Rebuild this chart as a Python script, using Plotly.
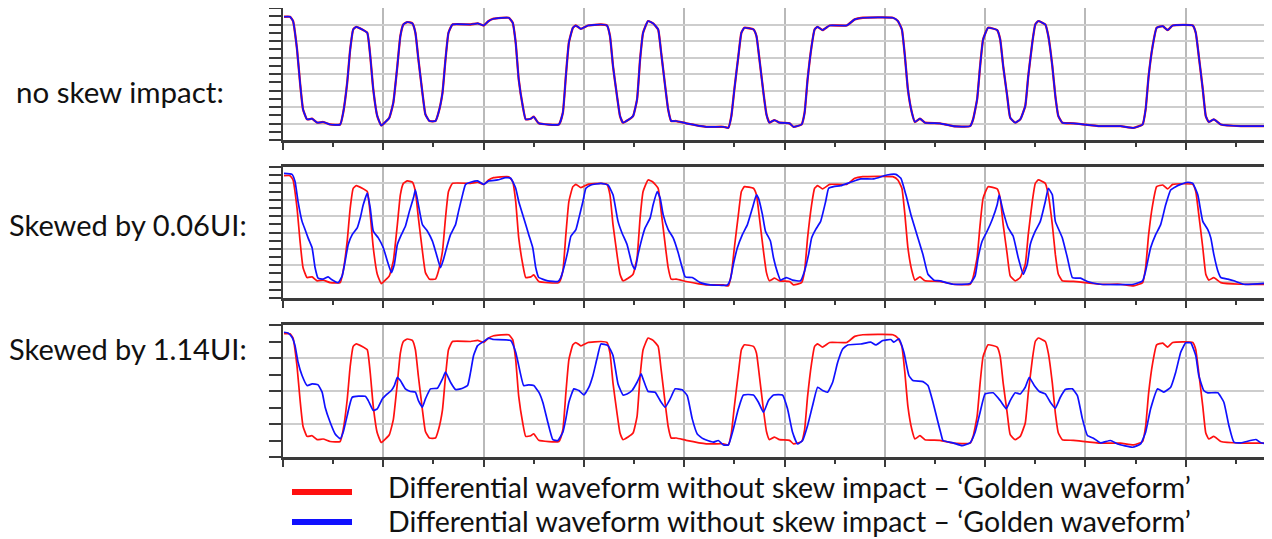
import plotly.graph_objects as go

# ---------------- data (time in ps, differential voltage in mV) ----------------
GOLDEN = [(1,347),(7,347),(10,321),(14,149),(17,-53),(20,-215),(24,-275),(29,-271),(34,-295),(40,-291),
          (47,-306),(57,-306),(60,-235),(64,-53),(67,149),(70,270),(73,286),(79,270),(84,250),(87,109),
          (90,-93),(94,-255),(98,-312),(102,-291),(106,-265),(110,-174),(114,48),(117,230),(120,300),(124,315),
          (129,307),(132,250),(135,88),(139,-114),(142,-245),(146,-285),(152,-285),(155,-235),(159,-114),(162,88),
          (165,250),(169,300),(187,300),(194,307),(200,294),(205,321),(210,335),(225,341),(229,311),(232,189),
          (235,-33),(239,-194),(242,-275),(247,-271),(250,-259),(255,-299),(275,-306),(279,-235),(282,-13),(285,189),
          (289,280),(292,294),(297,274),(304,294),(317,300),(323,294),(326,230),(329,48),(333,-134),(336,-255),
          (339,-295),(344,-279),(349,-255),(353,-154),(356,88),(359,250),(364,321),(369,307),(374,270),(377,129),
          (381,-73),(384,-215),(387,-285),(392,-285),(402,-299),(422,-320),(439,-320),(444,-326),(447,-255),(450,-93),
          (454,109),(457,250),(460,280),(469,270),(472,230),(475,88),(479,-114),(482,-245),(485,-295),(490,-279),
          (495,-295),(505,-299),(509,-320),(517,-306),(520,-235),(523,-33),(527,169),(530,270),(533,286),(538,266),
          (545,294),(562,294),(570,331),(578,341),(608,341),(613,321),(617,270),(620,109),(623,-93),(627,-235),
          (630,-291),(635,-271),(640,-295),(655,-299),(668,-316),(685,-316),(688,-275),(692,-154),(695,48),(698,210),
          (703,280),(712,266),(715,210),(718,48),(722,-134),(725,-265),(730,-295),(735,-275),(740,-194),(743,-13),
          (747,189),(750,300),(753,321),(760,300),(763,230),(767,48),(770,-134),(773,-255),(777,-295),(788,-299),
          (815,-316),(835,-316),(848,-326),(857,-306),(860,-215),(863,-13),(867,169),(871,280),(877,290),(882,266),
          (887,294),(907,294),(910,250),(913,109),(917,-93),(920,-255),(923,-291),(928,-275),(935,-306),(955,-316),
          (987,-316)]

NO_SKEW = GOLDEN  # measured waveform without skew coincides with the golden one

SKEW_006UI = [(1,361),(9,355),(12,311),(15,189),(19,68),(22,18),(25,-33),(29,-93),(32,-215),(35,-279),
              (40,-285),(45,-271),(48,-285),(55,-306),(59,-265),(62,-174),(65,-73),(69,-13),(74,28),(77,88),
              (80,169),(84,240),(87,149),(90,8),(95,-33),(100,-93),(104,-174),(108,-245),(111,-194),(114,-73),
              (118,-13),(122,38),(126,129),(130,210),(132,260),(135,169),(139,48),(144,8),(149,-53),(153,-134),
              (157,-215),(160,-164),(164,-73),(167,-13),(172,48),(175,129),(179,230),(182,294),(187,307),(194,315),
              (200,294),(205,315),(214,321),(222,335),(227,331),(232,270),(235,189),(240,88),(245,-13),(249,-93),
              (252,-215),(255,-275),(264,-295),(274,-299),(277,-275),(280,-215),(284,-114),(287,-23),(292,18),(295,88),
              (299,189),(302,270),(307,290),(317,300),(324,290),(329,230),(334,68),(338,-3),(343,-73),(348,-194),
              (351,-225),(354,-134),(358,-33),(361,28),(366,88),(369,169),(373,250),(376,210),(379,109),(384,18),
              (389,-33),(394,-124),(398,-215),(401,-271),(408,-275),(416,-306),(426,-320),(443,-320),(446,-285),(449,-194),
              (453,-93),(458,-13),(463,48),(468,149),(472,230),(474,210),(478,109),(481,8),(486,-53),(489,-154),
              (493,-245),(496,-291),(502,-275),(508,-291),(516,-295),(520,-235),(524,-134),(527,-33),(531,18),(536,68),
              (541,189),(544,270),(549,280),(556,286),(566,307),(576,327),(589,327),(602,351),(611,355),(616,331),
              (621,230),(626,109),(633,-33),(638,-134),(643,-255),(649,-291),(655,-295),(668,-316),(685,-312),(690,-265),
              (693,-154),(697,-53),(702,8),(707,78),(712,169),(714,230),(718,129),(723,28),(728,-23),(733,-154),
              (738,-255),(742,-194),(745,-73),(750,8),(755,68),(760,189),(763,270),(767,230),(770,68),(777,-33),
              (782,-154),(787,-275),(795,-279),(802,-299),(815,-316),(848,-316),(857,-295),(860,-235),(865,-93),(870,-13),
              (875,48),(880,169),(885,260),(890,280),(895,294),(902,307),(907,300),(912,230),(917,68),(922,18),
              (925,-33),(928,-134),(932,-235),(935,-275),(942,-285),(948,-295),(958,-316),(987,-306)]

SKEW_114UI = [(1,356),(5,352),(9,326),(12,275),(15,174),(19,94),(24,33),(29,43),(35,37),(39,-7),
              (42,-98),(47,-189),(52,-260),(57,-290),(60,-250),(64,-149),(69,-38),(82,-32),(85,-58),(90,-118),
              (94,-108),(99,-48),(104,-18),(108,3),(111,33),(114,83),(117,63),(122,13),(127,-3),(132,-7),
              (135,-58),(139,-98),(142,-48),(147,13),(154,17),(159,73),(162,114),(167,53),(172,9),(177,13),
              (184,33),(187,114),(190,215),(194,275),(200,300),(205,320),(210,312),(227,306),(232,235),(235,154),
              (240,33),(245,37),(250,33),(255,-7),(259,-68),(264,-189),(269,-294),(274,-300),(279,-250),(282,-169),
              (285,-68),(290,13),(295,3),(300,-24),(305,23),(309,94),(313,195),(317,285),(324,275),(329,215),
              (334,43),(339,-24),(343,-18),(348,3),(353,53),(357,104),(359,73),(364,-3),(371,-7),(376,-58),
              (381,-98),(386,-48),(391,13),(398,7),(403,-28),(408,-169),(413,-260),(419,-290),(429,-310),(434,-300),
              (439,-327),(444,-327),(449,-230),(454,-108),(459,-24),(469,-24),(474,-68),(479,-129),(484,-58),(489,-24),
              (498,-24),(503,-108),(508,-250),(513,-321),(518,-300),(523,-209),(528,-88),(533,23),(538,3),(543,-7),
              (548,53),(553,174),(558,255),(563,279),(576,285),(586,296),(591,279),(598,306),(606,312),(609,296),
              (614,316),(619,235),(624,94),(628,63),(638,57),(643,33),(648,-68),(653,-189),(656,-260),(658,-300),
              (668,-314),(677,-331),(685,-314),(690,-250),(695,-129),(700,-18),(708,-11),(715,-58),(721,-108),(725,-58),
              (730,-11),(735,-18),(740,23),(744,83),(749,33),(754,-3),(760,-18),(765,-68),(770,-104),(775,-38),
              (780,9),(787,13),(792,-28),(797,-169),(802,-270),(808,-286),(815,-314),(825,-300),(832,-321),(847,-341),
              (855,-321),(860,-250),(865,-108),(872,13),(878,-7),(885,23),(890,114),(895,235),(900,292),(905,292),
              (910,215),(913,94),(918,3),(922,-11),(932,-11),(938,-68),(943,-209),(948,-310),(955,-314),(970,-294),
              (975,-314),(987,-324)]

PANEL_LABELS = ["no skew impact:", "Skewed by 0.06UI:", "Skewed by 1.14UI:"]
LEGEND_TEXT = ["Differential waveform without skew impact \u2013 \u2018Golden waveform\u2019",
               "Differential waveform without skew impact \u2013 \u2018Golden waveform\u2019"]

# ---------------- layout constants ----------------
PAGE_W, PAGE_H = 1272, 539
OFF = 8                      # default page margin around the plot div
W, H = PAGE_W - OFF, PAGE_H - OFF
L = 283 - OFF
RED, BLUE = "#ff1010", "#1010ff"
FONT = "Lato"

def py(pix):  # page pixel row -> paper y
    return min(1.0, max(0.0, 1 - (pix - OFF) / H))

def px(pix):  # page pixel column -> paper x
    return (pix - OFF - L) / (W - L)

panels = [
    dict(top=8, bottom=140, blue=NO_SKEW, ymaj=100, ymin=50, label_y=92, label_x=14, size=29.5),
    dict(top=167, bottom=298, blue=SKEW_006UI, ymaj=100, ymin=50, label_y=224, label_x=7, size=29),
    dict(top=325, bottom=457, blue=SKEW_114UI, ymaj=200, ymin=100, label_y=348, label_x=7, size=29),
]

fig = go.Figure()
layout = {}
for i, p in enumerate(panels, start=1):
    xs = "" if i == 1 else str(i)
    gt = [a for a, b in GOLDEN]
    gv = [b for a, b in GOLDEN]
    bt = [a for a, b in p["blue"]]
    bv = [b for a, b in p["blue"]]
    fig.add_trace(go.Scatter(x=gt, y=gv, mode="lines",
                             line=dict(color=RED, width=2.3 if i == 1 else 1.7, shape="spline", smoothing=0.4),
                             xaxis="x" + xs, yaxis="y" + xs, showlegend=False, hoverinfo="skip"))
    fig.add_trace(go.Scatter(x=bt, y=bv, mode="lines",
                             line=dict(color=BLUE, width=1.7, shape="spline", smoothing=0.4),
                             xaxis="x" + xs, yaxis="y" + xs, showlegend=False, hoverinfo="skip"))
    layout["xaxis" + xs] = dict(
        domain=[0, 1], anchor="y" + xs, range=[0, 986], dtick=100, tick0=0,
        showgrid=True, gridcolor="#b9b9b9", gridwidth=2,
        showline=True, linecolor="#3a3a3a", linewidth=2.5, mirror=True,
        ticks="outside", ticklen=7, tickwidth=1.5, tickcolor="#3a3a3a",
        minor=dict(dtick=50, ticks="outside", ticklen=4, tickwidth=1.5, tickcolor="#3a3a3a", showgrid=False),
        showticklabels=False, zeroline=False, fixedrange=True)
    layout["yaxis" + xs] = dict(
        domain=[py(p["bottom"]), py(p["top"])], anchor="x" + xs, range=[-400, 400],
        dtick=p["ymaj"], tick0=0,
        showgrid=True, gridcolor="#cdcdcd", gridwidth=2,
        showline=True, linecolor="#3a3a3a", linewidth=2,
        ticks="outside", ticklen=12, tickwidth=2, tickcolor="#3a3a3a",
        minor=dict(dtick=p["ymin"], ticks="outside", ticklen=12, tickwidth=2, tickcolor="#3a3a3a", showgrid=False),
        showticklabels=False, zeroline=False, fixedrange=True)

annotations = []
for p, text in zip(panels, PANEL_LABELS):
    annotations.append(dict(text=text, xref="paper", yref="paper", x=px(p["label_x"]), y=py(p["label_y"]),
                            xanchor="left", yanchor="middle", showarrow=False,
                            font=dict(family=FONT, size=p["size"], color="#111111")))

shapes = []
for text, color, ypix, typix in zip(LEGEND_TEXT, [RED, BLUE], [492, 522], [487, 521.3]):
    shapes.append(dict(type="line", xref="paper", yref="paper", x0=px(292), x1=px(352),
                       y0=py(ypix), y1=py(ypix), line=dict(color=color, width=6)))
    annotations.append(dict(text=text, xref="paper", yref="paper", x=px(386), y=py(typix),
                            xanchor="left", yanchor="middle", showarrow=False,
                            font=dict(family=FONT, size=28.5, color="#111111")))

fig.update_layout(
    width=W, height=H,
    margin=dict(l=L, r=0, t=0, b=0, autoexpand=False),
    paper_bgcolor="white", plot_bgcolor="white",
    annotations=annotations, shapes=shapes,
    **layout)

fig.write_html("out.html")
